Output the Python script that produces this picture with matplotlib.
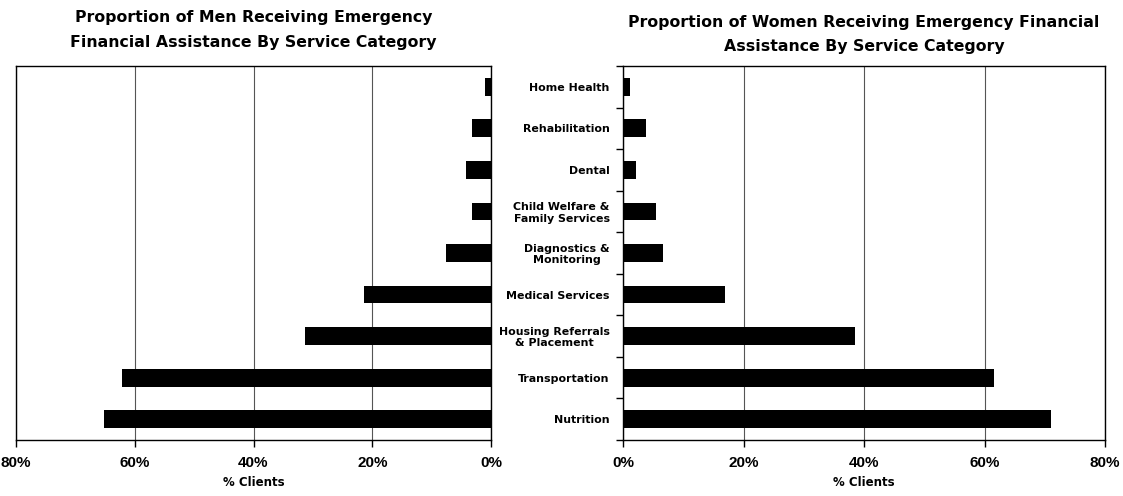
import matplotlib
matplotlib.use("Agg")
import matplotlib.pyplot as plt
import numpy as np

categories = ["Home Health", "Rehabilitation", "Dental", "Child Welfare &\nFamily Services",
              "Diagnostics &\nMonitoring", "Medical Services", "Housing Referrals\n& Placement",
              "Transportation", "Nutrition"]
men = [1.0, 3.2, 4.2, 3.2, 7.6, 21.4, 31.3, 62.1, 65.2]
women = [1.2, 3.8, 2.2, 5.5, 6.6, 16.9, 38.5, 61.6, 71.0]
xticks = [0, 20, 40, 60, 80]
xticklabels = ["0%", "20%", "40%", "60%", "80%"]

plt.rcParams['font.family'] = ['Liberation Sans', 'DejaVu Sans']
wide = ['DejaVu Sans']

W, H = 1123, 496
fig = plt.figure(figsize=(W / 100, H / 100), dpi=100)
top, bottom = 66, 440
axL = fig.add_axes([16 / W, 1 - bottom / H, 475 / W, (bottom - top) / H])
axR = fig.add_axes([623 / W, 1 - bottom / H, 482 / W, (bottom - top) / H])

y = np.arange(len(categories))
for ax, vals in ((axL, men), (axR, women)):
    ax.barh(y, vals, height=0.43, color="black", zorder=3)
    ax.set_ylim(len(categories) - 0.5, -0.5)
    ax.set_xlim(0, 80)
    ax.set_xticks(xticks)
    ax.set_xticklabels(xticklabels, fontsize=11, fontweight="bold")
    ax.tick_params(axis="x", direction="out", length=5, width=1, pad=6.5)
    ax.grid(axis="x", color="#555555", linewidth=0.8, zorder=0)
    ax.set_xlabel("% Clients", fontsize=8.5, fontweight="bold", labelpad=4, family=wide)
    for s in ax.spines.values():
        s.set_linewidth(1.0)

axL.invert_xaxis()
axL.set_yticks([])
axL.set_title("Proportion of Men Receiving Emergency\nFinancial Assistance By Service Category",
              fontsize=11.3, fontweight="bold", pad=14, linespacing=1.76, family=wide)

axR.set_yticks(y)
axR.set_yticklabels(categories, fontsize=7.9, fontweight="bold", ha="right",
                    multialignment="center", linespacing=1.15, family=wide)
axR.tick_params(axis="y", which="major", length=0, pad=9.5)
axR.set_yticks(np.arange(len(categories) + 1) - 0.5, minor=True)
axR.tick_params(axis="y", which="minor", length=5, direction="out", width=1)
axR.set_title("Proportion of Women Receiving Emergency Financial\nAssistance By Service Category",
              fontsize=11.3, fontweight="bold", pad=11, linespacing=1.76, family=wide)

fig.savefig("out.png", dpi=100, facecolor="white")
